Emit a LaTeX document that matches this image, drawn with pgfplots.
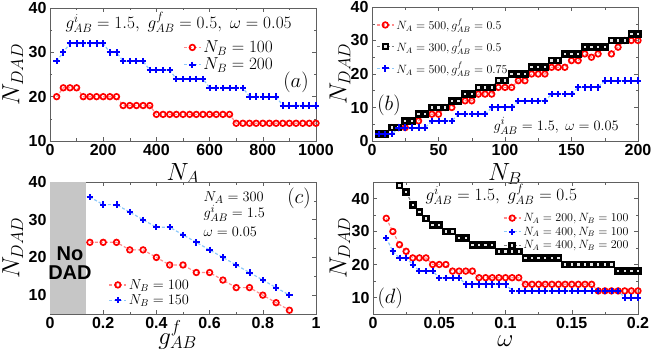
\documentclass[border=0pt]{standalone}
\usepackage[no-math]{fontspec}
\setmainfont{Liberation Sans}
\usepackage{pgfplots}
\pgfplotsset{compat=1.18}

\definecolor{lred}{RGB}{255,140,140}
\definecolor{lblue}{RGB}{140,200,250}
\definecolor{mblue}{RGB}{0,0,255}

\pgfplotsset{
  panel/.style={
    scale only axis, anchor=south west,
    axis line style={gray!75!black, line width=0.6pt},
    tick style={gray!75!black, line width=0.5pt},
    tick align=inside,
    major tick length=4pt, minor tick length=2.5pt,
    minor tick num=1,
    tick label style={font=\fontsize{16}{16}\selectfont\bfseries},
    /pgf/number format/assume math mode=true,
    /pgf/number format/1000 sep={},
    label style={font=\fontsize{24}{24}\selectfont, inner sep=0pt},
    legend cell align=left,
    legend style={draw=none, fill=none, inner sep=0pt},
  },
  rc/.style={lred, densely dashed, line width=1.2pt, mark=o,
    mark options={solid, draw=red, line width=1.7pt}, mark size=2.8pt},
  bp/.style={lblue, densely dashed, line width=1.2pt, mark=+,
    mark options={solid, draw=mblue, line width=2pt}, mark size=3.2pt},
  ks/.style={gray, densely dashed, line width=1.2pt, mark=square*,
    mark options={solid, draw=black, fill=gray!20, line width=2.6pt}, mark size=2.5pt},
}

\begin{document}
\begin{tikzpicture}
\useasboundingbox (0,0) rectangle (664pt,351pt);

% (a)
\begin{axis}[panel, at={(50pt,210pt)}, width=266pt, height=133pt,
  xmin=0, xmax=1000, ymin=10, ymax=40,
  xtick={0,200,...,1000}, ytick={10,20,30,40}, clip=false,
  xlabel={$N_A$}, ylabel={$N_{DAD}$},
  xlabel style={at={(axis description cs:0.5,-0.165)}, anchor=north},
  ylabel style={at={(axis description cs:-0.14,0.5)}, anchor=center},
  legend style={at={(0.5,0.77)}, anchor=north west, font=\fontsize{17}{17}\selectfont},
]
\addplot[rc] coordinates {
(25,20)(50,22)(75,22)(100,22)(125,20)(150,20)(175,20)(200,20)(225,20)(250,20)
(275,18)(300,18)(325,18)(350,18)(375,18)(400,16)(425,16)(450,16)(475,16)(500,16)
(525,16)(550,16)(575,16)(600,16)(625,16)(650,16)(675,16)(700,14)(725,14)(750,14)
(775,14)(800,14)(825,14)(850,14)(875,14)(900,14)(925,14)(950,14)(975,14)(1000,14)};
\addlegendentry{$N_B=100$}
\addplot[bp] coordinates {
(25,28)(50,30)(75,32)(100,32)(125,32)(150,32)(175,32)(200,32)(225,30)(250,30)
(275,28)(300,28)(325,28)(350,28)(375,26)(400,26)(425,26)(450,26)(475,24)(500,24)
(525,24)(550,24)(575,24)(600,22)(625,22)(650,22)(675,22)(700,22)(725,22)(750,20)
(775,20)(800,20)(825,20)(850,20)(875,18)(900,18)(925,18)(950,18)(975,18)(1000,18)};
\addlegendentry{$N_B=200$}
\node[font=\fontsize{18.5}{18.5}\selectfont, anchor=west] at (axis cs:45,36.8)
  {$g^i_{AB}=1.5,\ g^f_{AB}=0.5,\ \omega=0.05$};
\node[font=\fontsize{20}{20}\selectfont] at (axis cs:925,23.3) {$(a)$};
\end{axis}

% (b)
\begin{axis}[panel, at={(372pt,210pt)}, width=266pt, height=134pt,
  xmin=0, xmax=200, ymin=0, ymax=40,
  xtick={0,50,...,200}, ytick={0,10,20,30,40}, clip=false,
  xlabel={$N_B$}, ylabel={$N_{DAD}$},
  xlabel style={at={(axis description cs:0.5,-0.165)}, anchor=north},
  ylabel style={at={(axis description cs:-0.12,0.5)}, anchor=center},
  legend style={at={(0.015,0.93)}, anchor=north west, font=\fontsize{11.5}{11.5}\selectfont,
    row sep=5pt},
]
\addplot[rc] coordinates {
(5,2)(10,2)(15,4)(20,4)(25,4)(30,6)(35,6)(40,8)(45,8)(50,8)
(55,10)(60,10)(65,12)(70,12)(75,12)(80,14)(85,14)(90,14)(95,16)(100,16)
(105,16)(110,18)(115,18)(120,20)(125,20)(130,20)(135,22)(140,22)(145,22)(150,24)
(155,24)(160,26)(165,25)(170,26)(175,28)(180,26)(185,28)(190,30)(195,30)(200,30)};
\addlegendentry{$N_A=500, g^f_{AB}=0.5$}
\addplot[ks] coordinates {
(5,2)(10,2)(15,4)(20,4)(25,6)(30,6)(35,8)(40,8)(45,10)(50,10)
(55,10)(60,12)(65,12)(70,14)(75,14)(80,16)(85,16)(90,16)(95,18)(100,18)
(105,20)(110,20)(115,20)(120,22)(125,22)(130,22)(135,24)(140,24)(145,26)(150,26)
(155,26)(160,28)(165,28)(170,28)(175,28)(180,30)(185,30)(190,30)(195,32)(200,32)};
\addlegendentry{$N_A=300, g^f_{AB}=0.5$}
\addplot[bp] coordinates {
(5,2)(10,2)(15,2)(20,4)(25,4)(30,4)(35,4)(40,4)(45,6)(50,6)
(55,6)(60,6)(65,8)(70,8)(75,8)(80,8)(85,8)(90,10)(95,10)(100,10)
(105,10)(110,12)(115,12)(120,12)(125,12)(130,12)(135,14)(140,14)(145,14)(150,14)
(155,16)(160,16)(165,16)(170,16)(175,18)(180,18)(185,18)(190,18)(195,18)(200,18)};
\addlegendentry{$N_A=500, g^f_{AB}=0.75$}
\node[font=\fontsize{20}{20}\selectfont] at (axis cs:12.8,10.7) {$(b)$};
\node[font=\fontsize{15.5}{15.5}\selectfont, anchor=west] at (axis cs:88.7,4.5) {$g^i_{AB}=1.5,\ \omega=0.05$};
\end{axis}

% (c)
\begin{axis}[panel, at={(50pt,37pt)}, width=266pt, height=132pt,
  xmin=0, xmax=1, ymin=5, ymax=40,
  xtick={0,0.2,...,1}, ytick={10,20,30,40}, clip=false,
  xlabel={$g^f_{AB}$}, ylabel={$N_{DAD}$},
  xlabel style={at={(axis description cs:0.48,-0.045)}, anchor=north},
  ylabel style={at={(axis description cs:-0.14,0.5)}, anchor=center},
  legend style={at={(0.22,0.28)}, anchor=north west, font=\fontsize{14.5}{14.5}\selectfont},
]
\addplot[fill=gray!45, draw=none, forget plot] coordinates {(0,5)(0.135,5)(0.135,40)(0,40)} -- cycle;
\addplot[rc] coordinates {
(0.15,24)(0.2,24)(0.25,24)(0.3,22)(0.35,22)(0.4,20)(0.45,18)(0.5,18)
(0.55,16)(0.6,16)(0.65,14)(0.7,12)(0.75,12)(0.8,10)(0.85,8)(0.9,6)};
\addlegendentry{$N_B=100$}
\addplot[bp] coordinates {
(0.15,36)(0.2,34)(0.25,34)(0.3,32)(0.35,30)(0.4,28)(0.45,28)(0.5,26)
(0.55,24)(0.6,22)(0.65,20)(0.7,18)(0.75,16)(0.8,14)(0.85,12)(0.9,10)};
\addlegendentry{$N_B=150$}
\node[font=\fontsize{20}{20}\selectfont] at (axis cs:0.936,35.8) {$(c)$};
\node[font=\fontsize{15}{15}\selectfont, anchor=base west] at (axis cs:0.564,34.9) {$N_A=300$};
\node[font=\fontsize{15}{15}\selectfont, anchor=base west] at (axis cs:0.564,30.5) {$g^i_{AB}=1.5$};
\node[font=\fontsize{15}{15}\selectfont, anchor=base west] at (axis cs:0.564,25.6) {$\omega=0.05$};
\node[font=\fontsize{20}{19}\selectfont\bfseries, align=center] at (axis cs:0.075,18.6) {No\\DAD};
\end{axis}

% (d)
\begin{axis}[panel, at={(373pt,37pt)}, width=265pt, height=132pt,
  xmin=0, xmax=0.2, ymin=5, ymax=45,
  xtick={0,0.05,...,0.2}, ytick={10,20,30,40},
  xticklabels={0,0.05,0.1,0.15,0.2},
  xlabel={$\omega$}, ylabel={$N_{DAD}$},
  xlabel style={at={(axis description cs:0.5,-0.16)}, anchor=north},
  ylabel style={at={(axis description cs:-0.125,0.5)}, anchor=center},
  legend style={at={(0.49,0.78)}, anchor=north west, font=\fontsize{11.5}{11.5}\selectfont},
]
\addplot[rc] coordinates {
(0.01,34)(0.015,30)(0.02,26)(0.025,24)(0.03,22)(0.035,22)(0.04,22)(0.045,20)(0.05,20)(0.055,20)
(0.06,18)(0.065,18)(0.07,18)(0.075,18)(0.08,16)(0.085,16)(0.09,16)(0.095,16)(0.1,16)(0.105,16)
(0.11,16)(0.115,14)(0.12,14)(0.125,14)(0.13,14)(0.135,14)(0.14,14)(0.145,14)(0.15,14)(0.155,14)
(0.16,14)(0.165,14)(0.17,12)(0.175,12)(0.18,12)(0.185,12)(0.19,12)(0.195,12)(0.2,12)};
\addlegendentry{$N_A=200, N_B=100$}
\addplot[bp] coordinates {
(0.01,28)(0.015,24)(0.02,22)(0.025,22)(0.03,20)(0.035,18)(0.04,18)(0.045,18)(0.05,16)(0.055,16)
(0.06,16)(0.065,16)(0.07,14)(0.075,14)(0.08,14)(0.085,14)(0.09,14)(0.095,14)(0.1,14)(0.105,12)
(0.11,12)(0.115,12)(0.12,12)(0.125,12)(0.13,12)(0.135,12)(0.14,12)(0.145,12)(0.15,12)(0.155,12)
(0.16,12)(0.165,12)(0.17,12)(0.175,12)(0.18,12)(0.185,12)(0.19,10)(0.195,10)(0.2,10)};
\addlegendentry{$N_A=400, N_B=100$}
\addplot[ks] coordinates {
(0.02,44)(0.025,42)(0.03,38)(0.035,36)(0.04,34)(0.045,32)(0.05,32)(0.055,30)(0.06,30)(0.065,28)
(0.07,28)(0.075,26)(0.08,26)(0.085,26)(0.09,26)(0.095,24)(0.1,24)(0.105,24)(0.11,24)(0.115,22)
(0.12,22)(0.125,22)(0.13,22)(0.135,22)(0.14,22)(0.145,20)(0.15,20)(0.155,20)(0.16,20)(0.165,20)
(0.17,20)(0.175,20)(0.18,20)(0.185,18)(0.19,18)(0.195,18)(0.2,18)};
\addlegendentry{$N_A=400, N_B=200$}
\node[font=\fontsize{17.5}{17.5}\selectfont, anchor=west] at (axis cs:0.037,41.3) {$g^i_{AB}=1.5,\ g^f_{AB}=0.5$};
\node[font=\fontsize{20}{20}\selectfont] at (axis cs:0.013,9.9) {$(d)$};
\end{axis}
\end{tikzpicture}
\end{document}
